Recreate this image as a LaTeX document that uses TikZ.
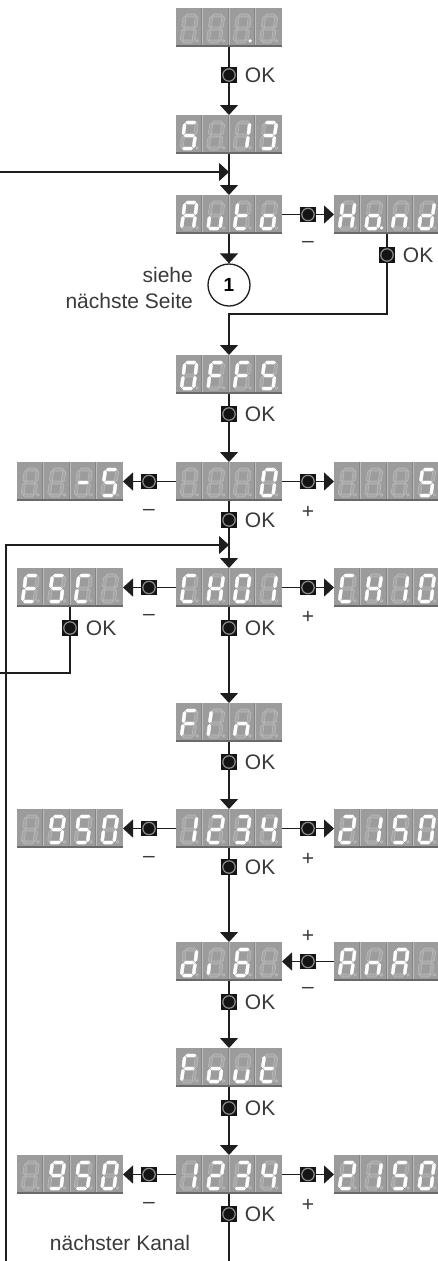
\documentclass[tikz,border=0pt]{standalone}
\usepackage{fontspec}
\setmainfont{Liberation Sans}
\usetikzlibrary{arrows.meta}
\definecolor{dbg}{HTML}{9C9C9C}
\definecolor{dsegf}{HTML}{A6A6A6}
\definecolor{dsegl}{HTML}{BABABA}
\definecolor{dsep}{HTML}{BDBDBD}
\definecolor{dsepd}{HTML}{858585}
\definecolor{dsh}{HTML}{6A6A6A}
\definecolor{lnc}{HTML}{1E1E1E}
\definecolor{txc}{HTML}{3A3A3A}
\newcommand\hsg[1]{(0.8,#1) -- (2.3,#1+1.5) -- (9.7,#1+1.5) -- (11.2,#1) -- (9.7,#1-1.5) -- (2.3,#1-1.5) -- cycle}
\newcommand\vsg[3]{(#1,#2+0.8) -- (#1+1.5,#2+2.3) -- (#1+1.5,#3-2.3) -- (#1,#3-0.8) -- (#1-1.5,#3-2.3) -- (#1-1.5,#2+2.3) -- cycle}
\newcommand\dgsa{\hsg{26}}
\newcommand\dgsb{\vsg{12}{13}{26}}
\newcommand\dgsc{\vsg{12}{0}{13}}
\newcommand\dgsd{\hsg{0}}
\newcommand\dgse{\vsg{0}{0}{13}}
\newcommand\dgsf{\vsg{0}{13}{26}}
\newcommand\dgsg{\hsg{13}}
\newcommand\dgsp{(15.5,0.6) circle[radius=1.4]}
\newcommand\dgsx{(0,0)}
\newcommand\dgseg[2]{\expandafter\dgsegaux\csname dgs#2\endcsname{#1}}
\newcommand\dgsegaux[2]{\path[#2] #1;}
\newcommand\dcell[3]{%
  \begin{scope}[shift={(#1.south west)}, xshift={#2*26.5pt+5.5pt}, yshift=5.5pt, x=1pt, y=1pt, xslant=0.13]
    \foreach \q in {a,b,c,d,e,f,g,p} {\dgseg{segdim}{\q}}
    \foreach \q in {#3} {\dgseg{seglit}{\q}}
  \end{scope}}
\newcommand\disp[6]{%
  \node[dispbox] (#1) at (#2) {};
  \begin{scope}[shift={(#1.north west)}]
    \foreach \k in {26.5,53,79.5} {\draw[dsepd, line width=0.8pt] (\k-0.8,0.3) -- (\k-0.8,38); \draw[dsep, line width=0.8pt] (\k,0.3) -- (\k,38);}
    \draw[dsh, line width=1.6pt] (0,38.2) -- (106,38.2);
  \end{scope}
  \dcell{#1}{0}{#3}\dcell{#1}{1}{#4}\dcell{#1}{2}{#5}\dcell{#1}{3}{#6}}
\tikzset{
  dispbox/.style={rectangle, fill=dbg, minimum width=106pt, minimum height=39pt, inner sep=0pt, outer sep=0pt},
  segdim/.style={fill=dsegf, draw=dsegl, line width=0.6pt},
  seglit/.style={fill=white, draw=white, line width=0.3pt},
  btn/.style={rectangle, fill=black!92, minimum size=15.5pt, inner sep=0pt, outer sep=0pt,
    path picture={\draw[black!45, fill=black!92, line width=1.2pt] (path picture bounding box.center) circle[radius=6.2pt];}},
  ln/.style={draw=lnc, line width=1.3pt},
  arr/.style={ln, -{Triangle[width=18pt,length=10pt]}},
  lab/.style={font=\fontsize{21}{25}\selectfont, text=txc, inner sep=0pt},
  oklab/.style={lab, anchor=west, xshift=8pt},
}
\begin{document}
\begin{tikzpicture}[x=1pt, y=-1pt]
\fill[white] (0,0) rectangle (438,1261);
\useasboundingbox (0,0) rectangle (438,1261);
% row 1
\disp{d1}{229,27.5}{x}{x}{p}{x}
\node[btn] (b1) at (229,75) {};
\node[oklab] at (b1.east) {OK};
\disp{d2}{229,134.5}{a,f,g,c,d}{x}{b,c}{a,b,g,c,d}
\coordinate (j1) at (229,172);
\coordinate (s1) at (0,172);
\disp{d3}{229,214.5}{a,b,c,e,f,g}{c,d,e}{d,e,f,g}{c,d,e,g}
\disp{hand}{387,214.5}{b,c,e,f,g}{c,d,e,g,p}{c,e,g}{b,c,d,e,g}
\node[btn] (bh) at (308,214.5) {};
\node[lab] at (308,244) {–};
\node[btn] (bhok) at (387,255) {};
\node[oklab] at (bhok.east) {OK};
\node[circle, draw=lnc, line width=1.3pt, minimum size=42pt, inner sep=0pt, font=\fontsize{19}{22}\selectfont\bfseries] (c1) at (229,285) {1};
\node[lab, anchor=east] at (193,275) {siehe};
\node[lab, anchor=east] at (193,301) {nächste Seite};
\coordinate (h2) at (229,314);
% OFFS
\disp{d4}{229,374.5}{a,b,c,d,e,f}{a,e,f,g}{a,e,f,g}{a,c,d,f,g}
\node[btn] (b4) at (229,414) {};
\node[oklab] at (b4.east) {OK};
% row 5
\disp{d5}{229,481.5}{x}{x}{x}{a,b,c,d,e,f}
\disp{d5l}{70,481.5}{x}{x}{g}{a,c,d,f,g}
\disp{d5r}{387,481.5}{x}{x}{x}{a,c,d,f,g}
\node[btn] (b5l) at (149,481.5) {};
\node[btn] (b5r) at (308,481.5) {};
\node[lab] at (149,512) {–};
\node[lab] at (308,512) {+};
\node[btn] (b5) at (229,520) {};
\node[oklab] at (b5.east) {OK};
\coordinate (j2) at (229,545);
\coordinate (s2) at (6,545);
\coordinate (s2b) at (6,1261);
% row 6
\disp{d6}{229,587.5}{a,d,e,f}{b,c,e,f,g}{a,b,c,d,e,f}{b,c}
\disp{d6l}{70,587.5}{a,d,e,f,g}{a,c,d,f,g}{a,d,e,f}{x}
\disp{d6r}{387,587.5}{a,d,e,f}{b,c,e,f,g}{b,c}{a,b,c,d,e,f}
\node[btn] (b6l) at (149,587.5) {};
\node[btn] (b6r) at (308,587.5) {};
\node[lab] at (149,617) {–};
\node[lab] at (308,617) {+};
\node[btn] (b6) at (229,628) {};
\node[oklab] at (b6.east) {OK};
\node[btn] (b6e) at (70,628) {};
\node[oklab] at (b6e.east) {OK};
\coordinate (e2) at (0,673);
% FIn
\disp{d7}{229,722.5}{a,e,f,g}{e,f}{c,e,g}{x}
\node[btn] (b7) at (229,762) {};
\node[oklab] at (b7.east) {OK};
% row 8
\disp{d8}{229,828.5}{b,c}{a,b,d,e,g}{a,b,c,d,g}{b,c,f,g}
\disp{d8l}{70,828.5}{x}{a,b,c,d,f,g}{a,c,d,f,g}{a,b,c,d,e,f}
\disp{d8r}{387,828.5}{a,b,d,e,g}{b,c}{a,c,d,f,g}{a,b,c,d,e,f}
\node[btn] (b8l) at (149,828.5) {};
\node[btn] (b8r) at (308,828.5) {};
\node[lab] at (149,859) {–};
\node[lab] at (308,859) {+};
\node[btn] (b8) at (229,867) {};
\node[oklab] at (b8.east) {OK};
% row 9
\disp{d9}{229,961.5}{b,c,d,e,g}{e}{a,c,d,e,f,g}{x}
\disp{d9r}{387,961.5}{a,b,c,e,f,g}{c,e,g}{a,b,c,e,f,g}{x}
\node[btn] (b9r) at (308,961.5) {};
\node[lab] at (308,936) {+};
\node[lab] at (308,990) {–};
\node[btn] (b9) at (229,1002) {};
\node[oklab] at (b9.east) {OK};
% Fout
\disp{d10}{229,1067.5}{a,e,f,g}{c,d,e,g}{c,d,e}{d,e,f,g}
\node[btn] (b10) at (229,1108) {};
\node[oklab] at (b10.east) {OK};
% row 11
\disp{d11}{229,1174.5}{b,c}{a,b,d,e,g}{a,b,c,d,g}{b,c,f,g}
\disp{d11l}{70,1174.5}{x}{a,b,c,d,f,g}{a,c,d,f,g}{a,b,c,d,e,f}
\disp{d11r}{387,1174.5}{a,b,d,e,g}{b,c}{a,c,d,f,g}{a,b,c,d,e,f}
\node[btn] (b11l) at (149,1174.5) {};
\node[btn] (b11r) at (308,1174.5) {};
\node[lab] at (149,1205) {–};
\node[lab] at (308,1205) {+};
\node[btn] (b11) at (229,1214) {};
\node[oklab] at (b11.east) {OK};
\node[lab] at (120,1243) {nächster Kanal};
\coordinate (endc) at (229,1261);
% connectors
\draw[ln] (d1) -- (b1);
\draw[arr] (b1) -- (d2);
\draw[arr] (d2) -- (d3);
\draw[arr] (s1) -- (j1);
\draw[ln] (d3) -- (bh);
\draw[arr] (bh) -- (hand);
\draw[arr] (d3) -- (c1);
\draw[ln] (hand) -- (bhok);
\draw[arr] (bhok) |- (h2) -- (d4);
\draw[ln] (d4) -- (b4);
\draw[arr] (b4) -- (d5);
\draw[ln] (d5) -- (b5l);
\draw[arr] (b5l) -- (d5l);
\draw[ln] (d5) -- (b5r);
\draw[arr] (b5r) -- (d5r);
\draw[ln] (d5) -- (b5);
\draw[arr] (b5) -- (d6);
\draw[arr] (s2b) -- (s2) -- (j2);
\draw[ln] (d6) -- (b6l);
\draw[arr] (b6l) -- (d6l);
\draw[ln] (d6) -- (b6r);
\draw[arr] (b6r) -- (d6r);
\draw[ln] (d6l) -- (b6e);
\draw[ln] (b6e) |- (e2);
\draw[ln] (d6) -- (b6);
\draw[arr] (b6) -- (d7);
\draw[ln] (d7) -- (b7);
\draw[arr] (b7) -- (d8);
\draw[ln] (d8) -- (b8l);
\draw[arr] (b8l) -- (d8l);
\draw[ln] (d8) -- (b8r);
\draw[arr] (b8r) -- (d8r);
\draw[ln] (d8) -- (b8);
\draw[arr] (b8) -- (d9);
\draw[ln] (d9r) -- (b9r);
\draw[arr] (b9r) -- (d9);
\draw[ln] (d9) -- (b9);
\draw[arr] (b9) -- (d10);
\draw[ln] (d10) -- (b10);
\draw[arr] (b10) -- (d11);
\draw[ln] (d11) -- (b11l);
\draw[arr] (b11l) -- (d11l);
\draw[ln] (d11) -- (b11r);
\draw[arr] (b11r) -- (d11r);
\draw[ln] (d11) -- (b11);
\draw[ln] (b11) -- (endc);
\end{tikzpicture}
\end{document}
